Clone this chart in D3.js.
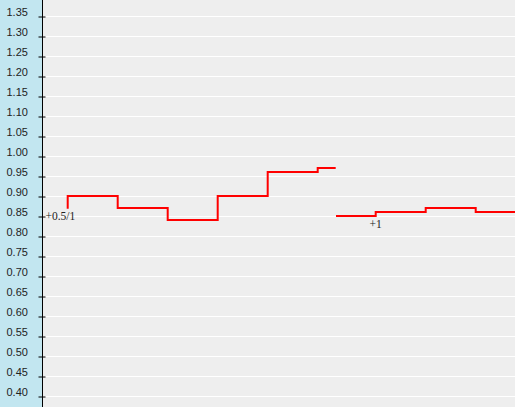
<!DOCTYPE html>
<html>
<head>
<meta charset="utf-8">
<script src="https://cdn.jsdelivr.net/npm/d3@7"></script>
<style>
  html, body { margin: 0; padding: 0; background: #eeeeee; }
  svg { display: block; }
  text { font-family: "DejaVu Sans", Verdana, sans-serif; }
</style>
</head>
<body>
<div id="chart"></div>
<script>
// tick values on the odds axis
var yTicks = [0.40, 0.45, 0.50, 0.55, 0.60, 0.65, 0.70, 0.75, 0.80, 0.85, 0.90,
              0.95, 1.00, 1.05, 1.10, 1.15, 1.20, 1.25, 1.30, 1.35];

// series 1 : handicap +0.5/1 (time index, odds)
var s1Time = [1, 1, 2, 3, 4, 5, 6, 6.36];
var s1Odds = [0.868, 0.90, 0.87, 0.84, 0.90, 0.96, 0.97, 0.97];

// series 2 : handicap +1
var s2Time = [6.366, 7.16, 8.16, 9.16, 10];
var s2Odds = [0.85, 0.86, 0.87, 0.86, 0.86];

var seriesLabels = ["+0.5/1", "+1"];

var W = 515, H = 407;
var axisX = 42.5;

var svg = d3.select("#chart").append("svg")
  .attr("width", W).attr("height", H);

var x = d3.scaleLinear().domain([0, 10]).range([17.7, 517.7]);
var y = d3.scaleLinear().domain([0.40, 1.35]).range([396, 16]);

// backgrounds
svg.append("rect").attr("x", 0).attr("y", 0).attr("width", axisX).attr("height", H)
  .attr("fill", "#c2e6f0");
svg.append("rect").attr("x", axisX).attr("y", 0).attr("width", W - axisX).attr("height", H)
  .attr("fill", "#eeeeee");

// grid lines
svg.append("g").selectAll("line").data(yTicks).enter().append("line")
  .attr("x1", axisX).attr("x2", W)
  .attr("y1", d => Math.round(y(d)) + 0.5).attr("y2", d => Math.round(y(d)) + 0.5)
  .attr("stroke", "#ffffff").attr("stroke-width", 1);

// axis
var yAxis = d3.axisRight(y).tickValues(yTicks).tickSize(0).tickFormat(d3.format(".2f"));
var ag = svg.append("g").attr("transform", "translate(" + axisX + ",0)").call(yAxis);
ag.select(".domain").remove();
ag.selectAll(".tick text")
  .attr("x", -36).attr("dy", "-0.05em")
  .attr("text-anchor", "start")
  .attr("fill", "#222")
  .style("font-size", "11px")
  .style("font-family", "'Liberation Sans', Arial, sans-serif");
ag.selectAll(".tick").append("line")
  .attr("x1", -4).attr("x2", 3)
  .attr("y1", 0.5).attr("y2", 0.5)
  .attr("stroke", "#000");

svg.append("line")
  .attr("x1", axisX).attr("x2", axisX).attr("y1", 0).attr("y2", H)
  .attr("stroke", "#000").attr("stroke-width", 1);

// step lines
var line = d3.line()
  .x(d => x(d[0]))
  .y(d => y(d[1]))
  .curve(d3.curveStepAfter);

[[s1Time, s1Odds], [s2Time, s2Odds]].forEach(function (s) {
  var pts = s[0].map((t, i) => [t, s[1][i]]);
  svg.append("path")
    .datum(pts)
    .attr("d", line)
    .attr("fill", "none")
    .attr("stroke", "#ff0000")
    .attr("stroke-width", 2);
});

// series labels
svg.append("text")
  .attr("x", axisX + 3).attr("y", y(0.85) + 4)
  .attr("fill", "#222")
  .style("font-size", "11.5px")
  .style("font-family", "'Liberation Serif', serif")
  .text(seriesLabels[0]);

svg.append("text")
  .attr("x", x(s2Time[1])).attr("y", y(s2Odds[0]) + 12)
  .attr("text-anchor", "middle")
  .attr("fill", "#222")
  .style("font-size", "11.5px")
  .style("font-family", "'Liberation Serif', serif")
  .text(seriesLabels[1]);
</script>
</body>
</html>
